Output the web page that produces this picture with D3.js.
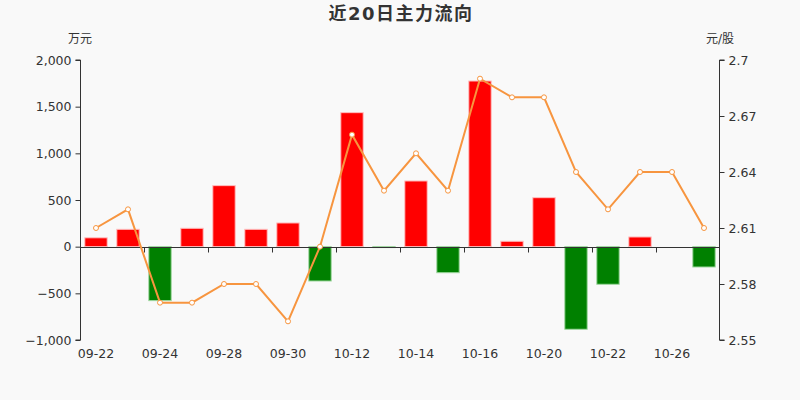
<!DOCTYPE html>
<html>
<head>
<meta charset="utf-8">
<script src="https://cdn.jsdelivr.net/npm/d3@7/dist/d3.min.js"></script>
<style>
  body { margin: 0; background: #f9f9f9; }
  svg { display: block; font-family: "DejaVu Sans", "Noto Sans CJK SC", sans-serif; }
  .axis text { fill: #333; }
  .axis path, .axis line { stroke: #333; }
</style>
</head>
<body>
<div id="chart-area"></div>
<script>
// Size
var width = 800,
	height = 400;
var margin = {top: 60, right: 80, bottom: 60, left: 80};

// data
var dates = ["09-22","09-23","09-24","09-25","09-28","09-29","09-30","10-09","10-12","10-13",
	"10-14","10-15","10-16","10-19","10-20","10-21","10-22","10-23","10-26","10-27"];
var flows = [95, 186, -578, 197, 654, 186, 254, -368, 1436, -10,
	704, -279, 1775, 58, 525, -885, -403, 104, 0, -218];
var prices = [2.61, 2.62, 2.57, 2.57, 2.58, 2.58, 2.56, 2.60, 2.66, 2.63,
	2.65, 2.63, 2.69, 2.68, 2.68, 2.64, 2.62, 2.64, 2.64, 2.61];
var flowTicks = [-1000, -500, 0, 500, 1000, 1500, 2000];
var priceTicks = [2.55, 2.58, 2.61, 2.64, 2.67, 2.7];

renderChart();

function renderChart(){

	var svg = d3.select("#chart-area")
			.append("svg")
			.attr("width", width)
			.attr("height", height);

	svg.append("rect")
			.attr("width", width)
			.attr("height", height)
			.attr("fill", "#f9f9f9");

	var xScale = d3.scaleBand()
			.domain(dates)
			.range([margin.left, width - margin.right])
			.paddingInner(0.3)
			.paddingOuter(0.15);

	var bandScale = d3.scaleBand()
			.domain(dates)
			.range([margin.left, width - margin.right]);

	var flowScale = d3.scaleLinear()
			.domain([-1000, 2000])
			.range([height - margin.bottom, margin.top]);

	var priceScale = d3.scaleLinear()
			.domain([2.55, 2.7])
			.range([height - margin.bottom, margin.top]);

	// title
	svg.append("text")
			.text("近20日主力流向")
			.attr("x", width / 2 + 1)
			.attr("y", 20)
			.attr("text-anchor", "middle")
			.attr("font-size", 18)
			.attr("font-weight", "bold")
			.attr("letter-spacing", 1.5)
			.attr("fill", "#333");

	// axis names
	svg.append("text").text("万元")
			.attr("x", margin.left)
			.attr("y", 43)
			.attr("text-anchor", "middle")
			.attr("font-size", 12)
			.attr("fill", "#333");
	svg.append("text").text("元/股")
			.attr("x", width - margin.right)
			.attr("y", 43)
			.attr("text-anchor", "middle")
			.attr("font-size", 12)
			.attr("fill", "#333");

	// bars
	svg.selectAll("rect.bar")
			.data(flows)
			.enter()
			.append("rect")
			.attr("class", "bar")
			.attr("x", function(d, i){ return xScale(dates[i]); })
			.attr("width", xScale.bandwidth())
			.attr("y", function(d){ return flowScale(Math.max(0, d)); })
			.attr("height", function(d){ return Math.abs(flowScale(d) - flowScale(0)); })
			.attr("fill", function(d){ return d >= 0 ? "#ff0000" : "#008000"; })
			.attr("stroke", function(d){ return d >= 0 ? "#ffc0c0" : "#a0d8a0"; })
			.attr("stroke-width", 1)
			.attr("stroke-opacity", function(d){ return d === 0 ? 0 : 1; });

	// y axes
	var yAxis = d3.axisLeft(flowScale)
			.tickValues(flowTicks)
			.tickSize(5)
			.tickPadding(4)
			.tickFormat(d3.format(","));
	svg.append("g")
			.attr("class", "axis y-axis")
			.attr("transform", "translate(" + (margin.left + 0.5) + ",0)")
			.call(yAxis)
			.attr("font-size", 12.5)
			.attr("font-family", "DejaVu Sans")
			.call(function(g){ g.select(".domain").attr("d", "M0," + flowScale(2000) + "V" + flowScale(-1000) + "H-5M0," + flowScale(2000) + "H-5"); });

	var y2Axis = d3.axisRight(priceScale)
			.tickValues(priceTicks)
			.tickSize(5)
			.tickPadding(4)
			.tickFormat(function(d){ return d3.format(".2~f")(d); });
	svg.append("g")
			.attr("class", "axis y2-axis")
			.attr("transform", "translate(" + (width - margin.right - 0.5) + ",0)")
			.call(y2Axis)
			.attr("font-size", 12.5)
			.attr("font-family", "DejaVu Sans")
			.call(function(g){ g.select(".domain").attr("d", "M0," + priceScale(2.7) + "V" + priceScale(2.55) + "H5M0," + priceScale(2.7) + "H5"); });

	// x axis line at zero with ticks every two days
	var zeroY = Math.round(flowScale(0)) + 0.5;
	var xg = svg.append("g")
			.attr("class", "axis x-axis")
			.attr("font-size", 12.5)
			.attr("font-family", "DejaVu Sans");
	xg.append("line")
			.attr("x1", margin.left)
			.attr("x2", width - margin.right)
			.attr("y1", zeroY)
			.attr("y2", zeroY)
			.attr("stroke", "#333");
	xg.selectAll("line.tick")
			.data(dates.filter(function(d, i){ return i % 2 === 0; }).slice(1))
			.enter()
			.append("line")
			.attr("class", "tick")
			.attr("x1", function(d){ return Math.round(bandScale(d)) + 0.5; })
			.attr("x2", function(d){ return Math.round(bandScale(d)) + 0.5; })
			.attr("y1", zeroY)
			.attr("y2", zeroY + 5)
			.attr("stroke", "#333");
	xg.selectAll("text")
			.data(dates.filter(function(d, i){ return i % 2 === 0; }))
			.enter()
			.append("text")
			.text(function(d){ return d; })
			.attr("x", function(d){ return bandScale(d) + bandScale.bandwidth() / 2; })
			.attr("y", height - margin.bottom + 18)
			.attr("text-anchor", "middle");

	// price line
	var line = d3.line()
			.x(function(d, i){ return bandScale(dates[i]) + bandScale.bandwidth() / 2; })
			.y(function(d){ return priceScale(d); });

	svg.append("path")
			.datum(prices)
			.attr("d", line)
			.attr("fill", "none")
			.attr("stroke", "#f7953f")
			.attr("stroke-width", 2);

	svg.selectAll("circle")
			.data(prices)
			.enter()
			.append("circle")
			.attr("cx", function(d, i){ return bandScale(dates[i]) + bandScale.bandwidth() / 2; })
			.attr("cy", function(d){ return priceScale(d); })
			.attr("r", 2.5)
			.attr("fill", "#fff")
			.attr("stroke", "#f7953f")
			.attr("stroke-width", 1);
}
</script>
</body>
</html>
